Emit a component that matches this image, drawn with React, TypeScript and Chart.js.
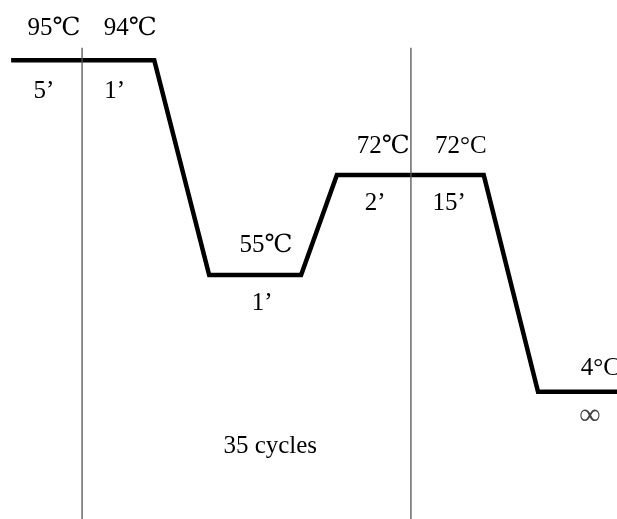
import React, { useEffect, useRef } from "react";
import { Chart, registerables } from "chart.js";

Chart.register(...registerables);

// Schematic thermal profile (x: time position, y: display level)
const profileX = [1.8, 25.0, 33.9, 48.8, 54.6, 78.4, 87.2, 100];
const profileY = [88.4, 88.4, 47.0, 47.0, 66.3, 66.3, 24.5, 24.5];

// Cycle boundary markers
const dividerX = [13.3, 66.6];
const dividerTop = 90.8;
const dividerBottom = 0;

// Annotations
const labelText = ["95℃", "94℃", "5’", "1’", "55℃", "1’", "72℃", "72°C", "2’", "15’", "4°C", "∞", "35 cycles"];
const labelX = [8.75, 21.1, 7.1, 18.6, 43.1, 42.5, 62.1, 74.7, 60.8, 72.8, 97.3, 95.6, 43.8];
const labelY = [93.3, 93.3, 81.1, 81.1, 51.4, 40.3, 70.5, 70.5, 59.5, 59.5, 27.7, 18.3, 12.7];

const textPlugin = {
  id: "profileLabels",
  afterDatasetsDraw(chart: any) {
    const { ctx, scales } = chart;
    ctx.save();
    ctx.textAlign = "center";
    ctx.textBaseline = "alphabetic";
    labelText.forEach((t, i) => {
      const inf = t === "∞";
      ctx.font = inf
        ? "30px 'Liberation Serif', 'DejaVu Serif', serif"
        : "25px 'Liberation Serif', 'DejaVu Serif', serif";
      ctx.fillStyle = inf ? "#444" : "#000";
      ctx.fillText(t, scales.x.getPixelForValue(labelX[i]), scales.y.getPixelForValue(labelY[i]));
    });
    ctx.restore();
  },
};

export default function App() {
  const ref = useRef<HTMLCanvasElement | null>(null);
  useEffect(() => {
    if (!ref.current) return;
    const chart = new Chart(ref.current, {
      type: "line",
      data: {
        datasets: [
          ...dividerX.map((x) => ({
            data: [
              { x, y: dividerTop },
              { x, y: dividerBottom },
            ],
            borderColor: "#555",
            borderWidth: 1.3,
            pointRadius: 0,
            clip: false as any,
          })),
          {
            data: profileX.map((x, i) => ({ x, y: profileY[i] })),
            borderColor: "#000",
            borderWidth: 4.5,
            borderJoinStyle: "miter" as const,
            borderCapStyle: "butt" as const,
            tension: 0,
            pointRadius: 0,
            clip: false as any,
          },
        ],
      },
      options: {
        animation: false,
        responsive: false,
        layout: { padding: 0 },
        plugins: { legend: { display: false }, tooltip: { enabled: false }, title: { display: false } },
        scales: {
          x: { type: "linear", min: 0, max: 100, display: false },
          y: { type: "linear", min: 0, max: 100, display: false },
        },
      },
      plugins: [textPlugin],
    });
    return () => chart.destroy();
  }, []);
  return (
    <div style={{ position: "fixed", left: 0, top: 0, width: 617, height: 519, background: "#fff" }}>
      <canvas ref={ref} width={617} height={519} />
    </div>
  );
}
